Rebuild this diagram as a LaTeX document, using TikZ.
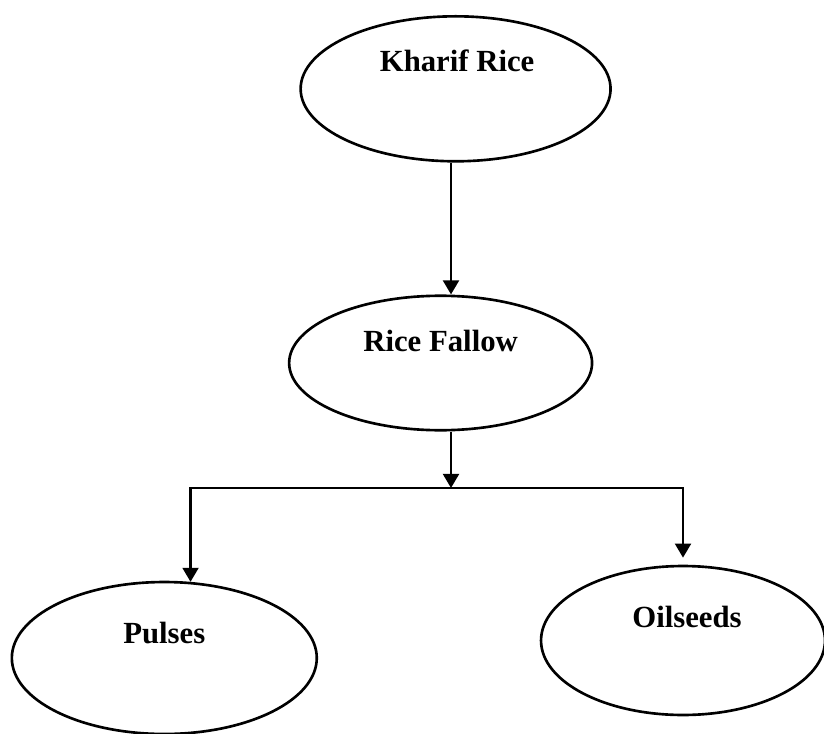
\documentclass[tikz,border=0pt]{standalone}
\usepackage{fontspec}
\setmainfont{Liberation Serif}
\usetikzlibrary{arrows.meta,shapes.geometric,positioning,calc}

\begin{document}
\begin{tikzpicture}
[x=0.02cm,y=-0.02cm,
crop/.style={shape=ellipse,draw=black,line width=1.5pt,inner sep=0pt},
croplabel/.style={font=\fontsize{17.5}{20}\selectfont\bfseries,inner sep=0pt},
dedge/.style={-{Triangle[width=9pt,length=8pt]}, line width=1.5pt}]

\useasboundingbox (0,0) rectangle (824,733);

\node (kharif) [crop,minimum width=6.2cm,minimum height=2.9cm,
  label={[croplabel,xshift=0.03cm,yshift=0.56cm]center:Kharif Rice}] at (455.6,88.8) {};
\node (fallow) [crop,minimum width=6.06cm,minimum height=2.69cm,
  label={[croplabel,yshift=0.44cm]center:Rice Fallow}] at (440.6,363) {};
\node (pulses) [crop,minimum width=6.1cm,minimum height=3.04cm,
  label={[croplabel,yshift=0.5cm]center:Pulses}] at (164.3,658) {};
\node (oilseeds) [crop,minimum width=5.68cm,minimum height=2.98cm,
  label={[croplabel,xshift=0.08cm,yshift=0.47cm]center:Oilseeds}] at (683,640.5) {};

\coordinate (stem) at (451,0);
\coordinate (split) at (451,488);

\draw[dedge] (kharif.south -| stem) -- (fallow.north -| stem);
\draw[dedge] (fallow.south -| split) -- (split);
\draw[dedge] (split) -| (pulses.71);
\draw[dedge,shorten >=4pt] (split) -| (oilseeds.north);

\end{tikzpicture}
\end{document}
